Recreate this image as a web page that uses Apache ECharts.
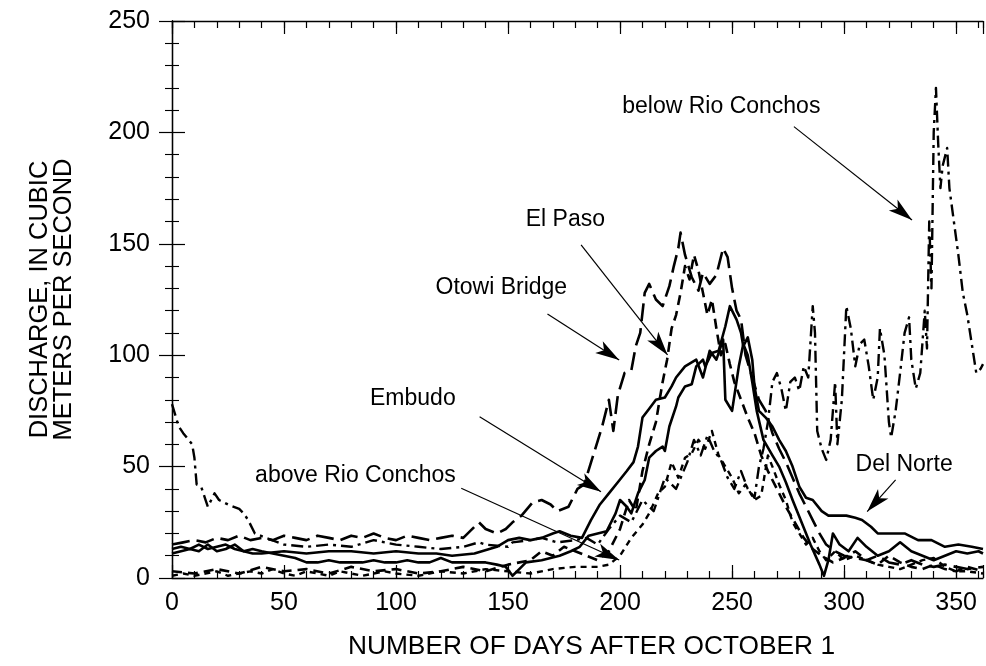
<!DOCTYPE html>
<html><head><meta charset="utf-8">
<script src="https://cdn.jsdelivr.net/npm/echarts@6/dist/echarts.min.js"></script>
<style>html,body{margin:0;padding:0;background:#fff}#c{width:986px;height:666px}</style>
</head><body><div id="c"></div>
<script>
// ---------- DATA ----------
const xTickValues = [0, 50, 100, 150, 200, 250, 300, 350];
const yTickValues = [0, 50, 100, 150, 200, 250];

const delNorteDays = [0,4,8,12,16,20,24,28,32,36,40,45,50,55,60,65,70,75,80,85,90,95,100,105,110,115,120,125,130,135,140,145,149,152,155,158,165,173,178,182,186,190,194,198,200,203,205,208,211,213,216,219,220,222,225,226,229,232,234,237,238,241,244,247,249,252,254,255,257,259,260,262,265,268,271,274,277,280,283,286,290,293,296,301,305,308,312,315,321,327,333,339,345,351,357,362];
const delNorteQ = [13,14,13,15,13,14,15,13,12,13,12,11,10,9,7,7,8,7,7,7,8,7,7,8,7,7,9,7,7,7,7,6,5,1,4,7,8,10,12,14,19,20,21,29,35,32,29,38,44,54,57,59,57,68,77,81,86,87,95,98,95,101,102,113,122,116,110,104,108,98,86,75,72,68,62,57,50,41,36,35,30,28,28,28,27,26,23,20,20,20,17,17,14,15,14,13];

const embudoDays = [0,4,8,12,16,20,24,28,32,36,40,50,60,70,80,90,100,110,118,125,135,145,150,155,160,165,170,173,178,183,187,191,195,199,203,206,208,210,213,216,220,223,225,229,234,237,240,243,246,247,250,253,255,257,259,261,264,268,271,274,277,281,285,289,291,293,295,298,302,306,310,315,320,325,330,335,340,345,350,355,360,362];
const embudoQ = [11,12,13,12,15,12,13,15,12,11,11,12,11,12,12,11,12,11,11,10,11,14,17,18,17,18,20,21,19,18,26,33,38,43,48,52,59,72,76,80,81,86,90,95,98,90,102,98,107,80,75,95,105,100,88,75,62,55,50,43,35,25,15,6,1,8,20,15,12,18,14,10,12,16,12,10,8,10,12,11,12,11];

const otowiDays = [0,5,10,15,20,25,30,35,40,45,50,55,60,65,70,75,80,85,90,95,100,105,110,115,120,125,130,137,140,145,149,152,156,161,165,169,172,177,181,184,188,192,195,197,199,202,205,207,209,211,213,216,219,222,224,226,227,229,232,235,237,240,243,246,248,250,252,254,256,259,262,265,268,271,274,277,280,283,286,289,292,296,300,305,310,315,320,325,330,335,340,345,350,355,362];
const otowiQ = [15,16,17,16,18,17,19,17,18,17,19,18,17,19,18,17,19,18,20,18,17,19,18,17,18,19,18,25,22,20,22,25,28,34,35,33,30,32,40,42,55,68,80,66,82,92,93,104,110,128,132,125,122,131,140,148,155,145,135,129,137,132,136,148,144,130,120,116,100,90,80,75,65,58,52,45,38,32,26,20,15,12,10,9,8,10,7,6,8,6,5,6,5,4,5];

const elPasoDays = [0,10,20,30,40,50,60,70,80,90,100,110,120,130,140,150,160,165,170,175,180,185,190,195,200,204,207,210,213,216,219,221,223,225,227,229,231,233,235,237,239,241,243,245,247,249,251,254,257,260,263,266,270,274,278,282,286,290,295,300,305,310,315,320,325,330,335,340,345,350,355,362];
const elPasoQ = [3,2,4,2,5,3,4,2,5,3,4,2,3,5,3,6,8,12,10,14,12,10,8,12,22,35,30,48,60,70,88,98,112,118,128,140,134,145,138,128,118,125,112,100,105,96,88,80,72,65,55,48,40,32,25,18,13,10,7,9,12,8,6,10,7,5,4,6,4,3,5,3];

const belowConchosDays = [0,3,5,9,10,11,13,15,16,19,21,25,30,32,34,37,42,50,60,70,80,90,100,110,120,130,137,140,150,152,160,165,172,180,185,190,195,200,205,210,215,220,225,230,233,236,239,242,245,248,251,254,257,260,262,264,266,268,270,272,274,276,278,280,282,284,286,287,288,290,292,294,296,297,299,301,303,305,307,309,311,313,315,316,318,320,321,323,325,327,329,330,332,334,336,337,338,339,340,341,342,343,344,346,347,349,351,353,355,357,359,361,362];
const belowConchosQ = [78,68,65,60,54,42,41,35,32,38,35,33,31,29,26,20,18,15,14,15,14,17,15,14,13,14,16,15,14,16,17,18,16,17,18,15,22,28,25,35,30,45,40,52,62,55,64,57,53,45,40,48,40,36,50,58,70,88,92,85,75,88,90,84,95,90,122,110,66,58,53,62,88,60,80,122,112,95,105,107,95,80,90,112,100,70,63,75,92,110,117,98,85,92,120,103,160,130,200,220,195,175,185,193,175,160,145,128,118,105,92,94,96];

const aboveConchosDays = [0,5,10,15,20,25,30,35,40,45,50,55,60,65,70,75,80,85,90,95,100,110,120,130,140,150,160,170,180,190,195,200,205,210,213,217,220,223,226,229,232,235,238,241,244,247,250,253,256,260,263,266,268,271,274,277,280,283,286,289,292,296,300,305,310,315,320,325,330,335,340,345,350,355,362];
const aboveConchosQ = [1,2,1,2,3,1,2,3,2,4,2,1,3,2,1,3,2,1,2,3,2,1,3,2,4,3,2,4,5,5,6,10,18,24,29,38,41,52,45,54,56,62,58,66,55,50,45,38,42,35,37,55,50,42,35,25,20,15,18,12,8,12,8,10,8,6,5,4,6,8,9,5,3,3,2];

// annotation texts and their anchor points (data units: day, discharge)
const annoText = ['below Rio Conchos', 'El Paso', 'Otowi Bridge', 'Embudo', 'above Rio Conchos', 'Del Norte'];
const annoTextAt = [[245.2, 211.6], [175.6, 160.7], [147.0, 130.2], [107.5, 80.3], [81.9, 46.1], [326.8, 50.7]];
const annoArrowFrom = [[277.6, 202.6], [182.6, 149.5], [167.6, 118.5], [137.3, 72.4], [129.1, 40.3], [323, 44]];
const annoArrowTo = [[330.3, 160.7], [221.2, 100.1], [199.6, 97.8], [191.5, 38.7], [199.6, 8.1], [310.3, 29.8]];

// ---------- CHART ----------
const FONT = "'Liberation Sans', Arial, Helvetica, sans-serif";
const XMAX = 362;
const pairs = (d, q) => d.map((x, i) => [x, q[i]]);
const lineSeries = (name, d, q, type, width) => ({
  name, type: 'line', data: pairs(d, q), xAxisIndex: 0, yAxisIndex: 0,
  showSymbol: false, symbol: 'none', animation: false, silent: true,
  lineStyle: { color: '#000', width: width, type: type, cap: 'butt', join: 'round' }
});

const axLine = { show: true, lineStyle: { color: '#000', width: 1.3 } };
const mkX = (pos, interval, tickLen, labels, line) => ({
  type: 'value', min: 0, max: XMAX, interval, position: pos,
  axisLine: line ? axLine : { show: false },
  axisTick: { show: true, inside: true, length: tickLen, lineStyle: { color: '#000', width: 1.2 } },
  splitLine: { show: false },
  axisLabel: labels ? {
    show: true, color: '#000', fontFamily: FONT, fontSize: 25, margin: 13,
    formatter: v => (xTickValues.indexOf(v) >= 0 ? String(v) : '')
  } : { show: false }
});
const mkY = (pos, labels) => ({
  type: 'value', min: 0, max: 250, interval: 50, position: pos,
  axisLine: axLine,
  axisTick: { show: true, inside: true, length: 13, lineStyle: { color: '#000', width: 1.2 } },
  minorTick: { show: true, splitNumber: 5, length: 7, lineStyle: { color: '#000', width: 1.1 } },
  splitLine: { show: false }, minorSplitLine: { show: false },
  axisLabel: labels ? {
    show: true, color: '#000', fontFamily: FONT, fontSize: 25, margin: 22,
    formatter: v => (yTickValues.indexOf(v) >= 0 ? String(v) : '')
  } : { show: false }
});

const xMain = mkX('bottom', 50, 13, true, true);
xMain.name = 'NUMBER OF DAYS AFTER OCTOBER 1';
xMain.nameLocation = 'middle';
xMain.nameGap = 56;
xMain.nameTextStyle = { color: '#000', fontFamily: FONT, fontSize: 26.3, padding: [0, 0, 0, 28] };
const yMain = mkY('left', true);
yMain.name = 'DISCHARGE, IN CUBIC\nMETERS PER SECOND';
yMain.nameLocation = 'middle';
yMain.nameGap = 96;
yMain.nameTextStyle = { color: '#000', fontFamily: FONT, fontSize: 25.5, lineHeight: 24, padding: [0, 0, 0, 0] };

const chart = echarts.init(document.getElementById('c'), null, { renderer: 'canvas' });
chart.setOption({
  backgroundColor: '#fff',
  animation: false,
  grid: { left: 172, top: 21, width: XMAX * 2.244, height: 557, containLabel: false },
  xAxis: [xMain, mkX('bottom', 10, 7, false, false), mkX('top', 50, 13, false, true), mkX('top', 10, 7, false, false)],
  yAxis: [yMain, mkY('right', false)],
  series: [
    lineSeries('Del Norte', delNorteDays, delNorteQ, 'solid', 2.6),
    lineSeries('Embudo', embudoDays, embudoQ, 'solid', 2.6),
    lineSeries('Otowi Bridge', otowiDays, otowiQ, [18, 7], 2.6),
    lineSeries('El Paso', elPasoDays, elPasoQ, [10, 6], 2.6),
    lineSeries('below Rio Conchos', belowConchosDays, belowConchosQ, [12, 5, 3, 5], 2.4),
    lineSeries('above Rio Conchos', aboveConchosDays, aboveConchosQ, [6, 5], 2.4)
  ]
});

// annotations: positioned from data units through the chart's own scales
const px = p => chart.convertToPixel({ gridIndex: 0 }, p);
const graphics = [];
annoText.forEach((t, i) => {
  const c = px(annoTextAt[i]);
  graphics.push({ type: 'text', x: c[0], y: c[1], silent: true,
    style: { text: t, fill: '#000', font: '23px ' + FONT, align: 'center', verticalAlign: 'middle' } });
  const a = px(annoArrowFrom[i]), b = px(annoArrowTo[i]);
  graphics.push({ type: 'line', silent: true, shape: { x1: a[0], y1: a[1], x2: b[0], y2: b[1] },
    style: { stroke: '#000', lineWidth: 1.2 } });
  const dx = a[0] - b[0], dy = a[1] - b[1], len = Math.hypot(dx, dy);
  const ux = dx / len, uy = dy / len, nx = -uy, ny = ux;
  const L = 24, W = 7, N = 6;
  graphics.push({ type: 'polygon', silent: true, shape: { points: [
    [b[0], b[1]],
    [b[0] + ux * L + nx * W, b[1] + uy * L + ny * W],
    [b[0] + ux * (L - N), b[1] + uy * (L - N)],
    [b[0] + ux * L - nx * W, b[1] + uy * L - ny * W]
  ] }, style: { fill: '#000' } });
});
chart.setOption({ graphic: graphics });
</script>
</body></html>
